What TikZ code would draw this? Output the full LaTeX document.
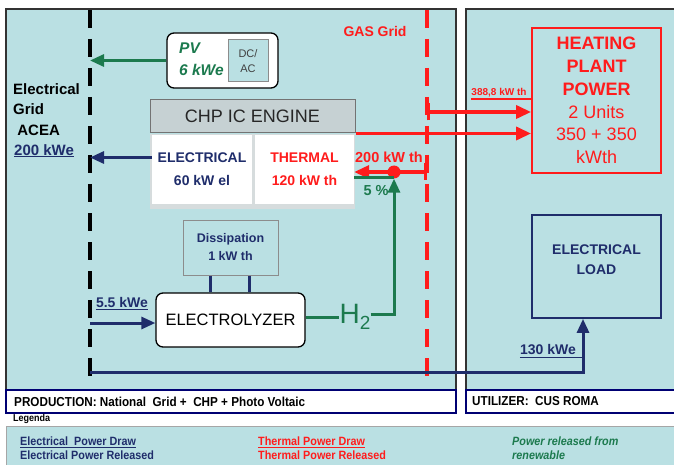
\documentclass[tikz,border=0pt]{standalone}
\usepackage{fontspec}
\setmainfont{Liberation Sans}
\newfontfamily\narrowfont[FakeStretch=0.9]{Liberation Sans}
\usetikzlibrary{positioning,arrows.meta,calc}
\definecolor{panelcyan}{HTML}{BAE0E3}
\definecolor{elnavy}{HTML}{1F2D6B}
\definecolor{rengreen}{HTML}{1C7A4E}
\definecolor{thred}{HTML}{FF1C1C}
\definecolor{chpgray}{HTML}{C6D1D3}
\definecolor{chpbasegray}{HTML}{D6DCDD}
\newcommand{\fsz}[2]{\fontsize{#1pt}{#2pt}\selectfont}
\tikzset{
  panel/.style={draw=black!80,line width=1.5pt,fill=panelcyan},
  strip/.style={draw=blue!45!black,line width=1.2pt,fill=white},
  legendpanel/.style={draw=black!35,line width=1pt,fill=panelcyan},
  striptext/.style={anchor=west,inner sep=0pt,font=\narrowfont\bfseries\fsz{13}{15}},
  legtext/.style={anchor=north west,inner sep=0pt,align=left,font=\narrowfont\bfseries\fsz{12}{14}},
  griddash/.style={line width=4pt,dash pattern=on 18pt off 11pt},
  flowbox/.style={draw=black,line width=1.3pt,fill=white,rounded corners=7pt},
  smallbox/.style={draw=black!45,line width=1pt,fill=panelcyan},
  userbox/.style={line width=1.8pt,fill=panelcyan},
  tip/.style={-{Triangle[length=14pt,width=12pt]}},
  navyarrow/.style={draw=elnavy,line width=3pt,tip},
  greenarrow/.style={draw=rengreen,line width=3pt,tip},
  redarrow/.style={draw=thred,line width=3.4pt,{Bar[width=17pt]}-{Triangle[length=15pt,width=13pt]}},
  val/.style={inner sep=0pt,font=\bfseries\fsz{14.5}{17}},
}
\begin{document}
\begin{tikzpicture}[x=1pt,y=-1pt]
\useasboundingbox (0,0) rectangle (674,465);
% panels and captions
\draw[panel] (6,9) rectangle (456,390);
\draw[panel] (466,9) rectangle (680,390);
\draw[strip] (6,390) rectangle (456,413);
\draw[strip] (466,390) rectangle (680,413);
\draw[legendpanel] (6,426) rectangle (680,470);
\node[striptext] (prodlab) at (14,401.5) {PRODUCTION: National\ \ Grid +\ \ CHP + Photo Voltaic};
\node[striptext] (utillab) at (472,401.5) {UTILIZER:\ \ CUS ROMA};
\node[striptext,font=\narrowfont\bfseries\fsz{10}{11}] (legtitle) at (13,419) {Legenda};
\node[legtext,text=elnavy] (legel) at (20,437) {\underline{Electrical\ \ Power Draw}\\Electrical Power Released};
\node[legtext,text=thred] (legth) at (258,437) {\underline{Thermal Power Draw}\\Thermal Power Released};
\node[legtext,text=rengreen,font=\narrowfont\bfseries\itshape\fsz{12}{14}] (legren) at (512,437) {Power released from\\renewable};

% grid lines
\coordinate (elgrid) at (90,10);
\coordinate (gasgrid) at (427,10);
\draw[griddash,black] (elgrid) -- ++(0,366);
\draw[griddash,thred] (gasgrid) -- ++(0,366);
\node[val,text=thred,font=\bfseries\fsz{14}{15}] (gaslab) at (375,31) {GAS Grid};
\node[anchor=north west,inner sep=0pt,align=left,font=\bfseries\fsz{15}{20.5}] (gridlab) at (13,83) {Electrical\\Grid\\\ ACEA};
\node[anchor=north west,inner sep=0pt,text=elnavy,font=\bfseries\fsz{15}{20.5}] (gridval) at (14,144) {\underline{200 kWe}};

% PV
\node[flowbox,minimum width=111pt,minimum height=55pt] (pv) at (222.5,60.5) {};
\node[anchor=west,inner sep=0pt,align=left,text=rengreen,font=\bfseries\itshape\fsz{15.5}{22}] (pvtxt) at (179,59) {PV\\6 kWe};
\node[smallbox,minimum width=40pt,minimum height=42pt,align=center,text=black!75,font=\fsz{11}{15}] (dcac) at (248,61) {DC/\\AC};

% CHP engine
\node[draw=black!55,line width=1pt,fill=chpgray,minimum width=205pt,minimum height=33pt,text=black!85,font=\fsz{18}{20}] (chphead) at (252.5,116.5) {CHP IC ENGINE};
\node[fill=chpbasegray,minimum width=205pt,minimum height=75pt,below=0pt of chphead] (chpbase) {};
\node[fill=white,minimum width=100pt,minimum height=69pt,align=center,text=elnavy,font=\bfseries\fsz{14}{23}] (chpel) at (202,169.5) {ELECTRICAL\\60 kW el};
\node[fill=white,minimum width=99pt,minimum height=69pt,align=center,text=thred,font=\bfseries\fsz{14}{23}] (chpth) at (304.5,169.5) {THERMAL\\120 kW th};

% electrolyzer
\node[smallbox,minimum width=95pt,minimum height=55pt,align=center,text=elnavy,font=\bfseries\fsz{12.5}{18}] (diss) at (230.5,247.5) {Dissipation\\1 kW th};
\node[flowbox,minimum width=149pt,minimum height=54pt,font=\fsz{16.5}{18}] (ely) at (230.5,320) {ELECTROLYZER};
\draw[elnavy,line width=2.5pt] ([xshift=-20pt]diss.south) -- ([xshift=-20pt]diss.south |- ely.north);
\draw[elnavy,line width=2.5pt] ([xshift=19pt]diss.south) -- ([xshift=19pt]diss.south |- ely.north);
\node[inner sep=0pt,text=rengreen,font=\fsz{28}{30}] (h2) at (355,317) {H\raisebox{-6pt}{\fsz{19}{20}2}};
\node[circle,fill=thred,inner sep=0pt,minimum size=13pt] (mix) at (394,172) {};

% user side
\node[userbox,draw=thred,minimum width=129pt,minimum height=145pt,align=center,text=thred,font=\fsz{18}{22.8}] (heat) at (596.5,100.5) {\textbf{HEATING}\\\textbf{PLANT}\\\textbf{POWER}\\2 Units\\350 + 350\\kWth};
\node[userbox,draw=elnavy,minimum width=129pt,minimum height=103pt] (eload) at (596.5,266.5) {};
\node[inner sep=0pt,align=center,text=elnavy,font=\bfseries\fsz{14}{20}] (eloadtxt) at (596.5,260) {ELECTRICAL\\LOAD};

% electrical flows
\draw[greenarrow] (pv.west) -- (pv.west -| elgrid);
\draw[navyarrow] ([yshift=12pt]chpel.west) -- ([yshift=12pt]chpel.west -| elgrid);
\draw[navyarrow] ([yshift=-3pt]ely.west -| elgrid) -- ([yshift=-3pt]ely.west);
\node[val,text=elnavy,font=\bfseries\fsz{14}{15}] (lab55) at (122,302) {5.5 kWe};
\draw[elnavy,line width=1.4pt] ([yshift=-2pt]lab55.south west) -- ([yshift=-2pt]lab55.south east);
\coordinate (gridout) at (90,372);
\draw[navyarrow] (gridout) -| ([xshift=-13.5pt]eload.south);
\node[val,text=elnavy,font=\bfseries\fsz{14}{15}] (lab130) at (548,350) {130 kWe};
\draw[elnavy,line width=1.4pt] ([yshift=-2pt]lab130.south west) -- ([yshift=-2pt]lab130.south west -| 583,0);

% thermal flows
\draw[thred,line width=3.4pt,-{Triangle[length=15pt,width=13pt]}] (chphead.south east) -- (chphead.south east -| heat.west);
\coordinate (gasout) at (427,112);
\draw[redarrow] (gasout) -- (gasout -| heat.west);
\node[inner sep=0pt,text=thred,font=\bfseries\fsz{10}{12}] (lab388) at (499,93) {388,8 kW th};
\draw[thred,line width=1.4pt] ([yshift=-1.5pt]lab388.south west) -- ([yshift=-1.5pt]lab388.south west -| heat.west);
\coordinate (gasin) at (427,172);
\draw[redarrow] (gasin) -- (gasin -| chpth.east);
\node[val,text=thred] (lab200) at (389,157) {200 kW th};

% hydrogen
\draw[rengreen,line width=3pt] (ely.east |- h2.west) -- (h2.west);
\draw[greenarrow] ([yshift=3pt]h2.east) -| (mix.south);
\draw[rengreen,line width=3pt] ([yshift=-6pt]mix.center -| chpth.east) -- ([yshift=-6pt]mix.center);
\node[val,text=rengreen] (lab5) at (376,191) {5 \%};
\end{tikzpicture}
\end{document}
